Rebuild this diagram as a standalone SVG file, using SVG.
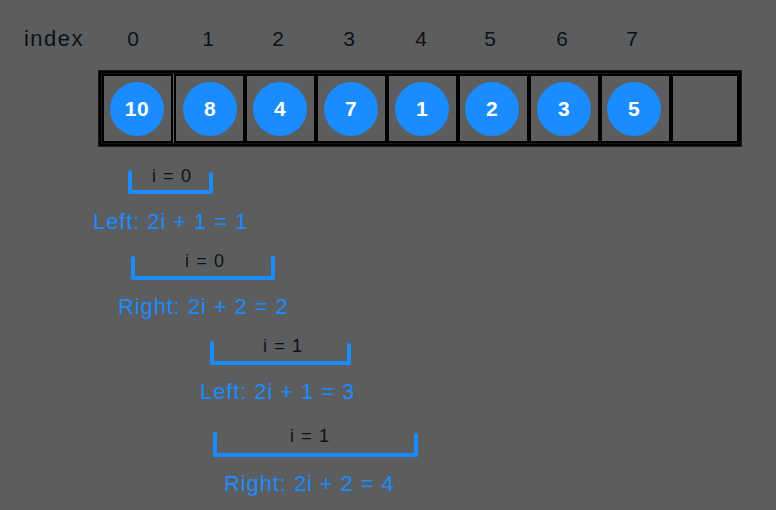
<svg xmlns="http://www.w3.org/2000/svg" width="776" height="510" viewBox="0 0 776 510">
<style>
.idx{font-family:"Liberation Sans",Arial,sans-serif;font-size:21px;fill:#111;text-anchor:middle}
.cell{fill:none;stroke:#000;stroke-width:2}
.node circle{fill:#1a8cff}
.node text{font-family:"Liberation Sans",Arial,sans-serif;font-size:21px;font-weight:bold;fill:#fff;text-anchor:middle;letter-spacing:0.5px}
.br{fill:none;stroke:#1a8cff;stroke-width:4;stroke-linecap:round;stroke-linejoin:round}
.it{font-family:"Liberation Sans",Arial,sans-serif;font-size:18px;fill:#111;text-anchor:middle;letter-spacing:1.1px}
.f{font-family:"Liberation Sans",Arial,sans-serif;font-size:22px;fill:#1a8cff;letter-spacing:0.9px}
</style>
<rect width="776" height="510" fill="#5c5d5f"/>
<g id="labels">
<text class="idx" x="54" y="46" style="font-size:22px;letter-spacing:1.5px">index</text>
<text class="idx" x="133" y="46">0</text>
<text class="idx" x="208" y="46">1</text>
<text class="idx" x="278" y="46">2</text>
<text class="idx" x="349" y="46">3</text>
<text class="idx" x="421" y="46">4</text>
<text class="idx" x="490" y="46">5</text>
<text class="idx" x="562" y="46">6</text>
<text class="idx" x="632" y="46">7</text>
</g>
<g id="array">
<rect x="100" y="72" width="640" height="73" fill="none" stroke="#000" stroke-width="3.5"/>
<rect class="cell" x="103" y="75" width="69" height="67"/>
<rect class="cell" x="175" y="75" width="69" height="67"/>
<rect class="cell" x="246" y="75" width="69" height="67"/>
<rect class="cell" x="317" y="75" width="69" height="67"/>
<rect class="cell" x="388" y="75" width="69" height="67"/>
<rect class="cell" x="459" y="75" width="69" height="67"/>
<rect class="cell" x="530" y="75" width="69" height="67"/>
<rect class="cell" x="601" y="75" width="69" height="67"/>
<rect class="cell" x="672" y="75" width="66" height="67"/>
</g>
<g id="n0" class="node"><circle cx="137" cy="109" r="27"/><text x="137" y="116">10</text></g>
<g id="n1" class="node"><circle cx="210" cy="109" r="27"/><text x="210" y="116">8</text></g>
<g id="n2" class="node"><circle cx="280" cy="109" r="27"/><text x="280" y="116">4</text></g>
<g id="n3" class="node"><circle cx="351" cy="109" r="27"/><text x="351" y="116">7</text></g>
<g id="n4" class="node"><circle cx="422" cy="109" r="27"/><text x="422" y="116">1</text></g>
<g id="n5" class="node"><circle cx="492" cy="109" r="27"/><text x="492" y="116">2</text></g>
<g id="n6" class="node"><circle cx="564" cy="109" r="27"/><text x="564" y="116">3</text></g>
<g id="n7" class="node"><circle cx="634" cy="109" r="27"/><text x="634" y="116">5</text></g>
<g id="connectors">
<path class="br" d="M130 172 V192 H211 V174"/>
<path class="br" d="M133 258 V278 H273 V258"/>
<path class="br" d="M212 343 V363 H349 V345"/>
<path class="br" d="M215 434 V455 H416 V435"/>
</g>
<g id="ann1"><text class="it" x="172" y="182">i = 0</text><text class="f" x="93" y="229">Left: 2i + 1 = 1</text></g>
<g id="ann2"><text class="it" x="205" y="267">i = 0</text><text class="f" x="118" y="314">Right: 2i + 2 = 2</text></g>
<g id="ann3"><text class="it" x="283" y="352">i = 1</text><text class="f" x="200" y="399">Left: 2i + 1 = 3</text></g>
<g id="ann4"><text class="it" x="310" y="442">i = 1</text><text class="f" x="224" y="491">Right: 2i + 2 = 4</text></g>
</svg>
